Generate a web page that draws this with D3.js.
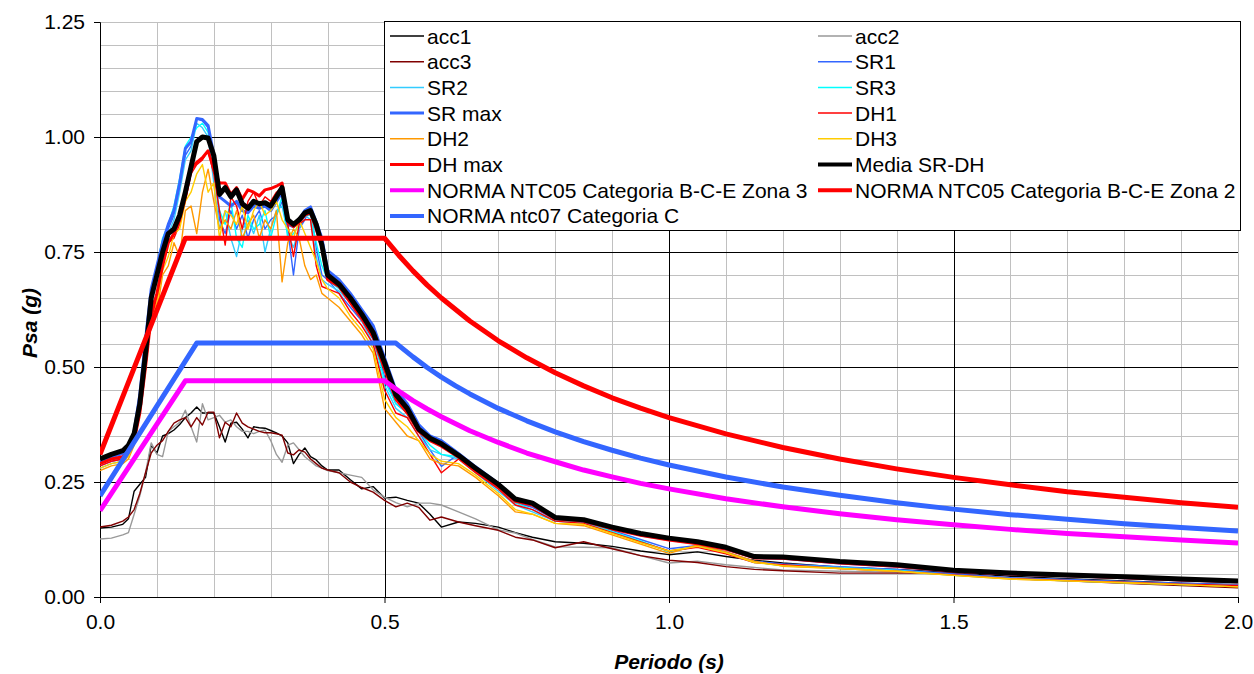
<!DOCTYPE html>
<html>
<head>
<meta charset="utf-8">
<script src="https://cdn.jsdelivr.net/npm/d3@7"></script>
<style>
body { margin: 0; background: #fff; }
text { font-family: Arial, "Liberation Sans", sans-serif; fill: #000; }
</style>
</head>
<body>
<script>
// periods (s) shared by the record spectra
var periods = [0,0.02,0.04,0.05,0.06,0.07,0.08,0.09,0.10,0.11,
	0.12,0.13,0.14,0.15,0.16,0.17,0.18,0.19,0.20,0.21,
	0.22,0.23,0.24,0.25,0.26,0.27,0.28,0.29,0.30,0.31,
	0.32,0.33,0.34,0.35,0.36,0.37,0.38,0.39,0.40,0.42,
	0.44,0.46,0.48,0.50,0.52,0.54,0.56,0.58,0.60,0.63,
	0.66,0.70,0.73,0.76,0.80,0.85,0.90,0.95,1.00,1.05,
	1.10,1.15,1.20,1.30,1.40,1.50,1.60,1.70,1.80,1.90,
	2.00];

var acc1 = [0.150,0.152,0.158,0.170,0.230,0.245,0.260,0.330,0.313,0.350,
	0.355,0.363,0.375,0.390,0.400,0.413,0.400,0.400,0.400,0.370,
	0.337,0.378,0.380,0.365,0.346,0.370,0.368,0.367,0.362,0.357,
	0.350,0.335,0.290,0.310,0.324,0.305,0.298,0.285,0.276,0.276,
	0.255,0.235,0.240,0.215,0.217,0.210,0.204,0.180,0.152,0.163,
	0.160,0.152,0.140,0.130,0.120,0.117,0.110,0.100,0.092,0.098,
	0.088,0.080,0.074,0.065,0.060,0.053,0.045,0.040,0.035,0.030,
	0.027];
var acc2 = [0.126,0.128,0.135,0.140,0.180,0.220,0.270,0.335,0.310,0.305,
	0.360,0.370,0.380,0.406,0.370,0.337,0.420,0.385,0.390,0.395,
	0.380,0.385,0.370,0.360,0.360,0.355,0.360,0.363,0.340,0.310,
	0.293,0.330,0.335,0.320,0.305,0.295,0.285,0.280,0.275,0.270,
	0.265,0.260,0.233,0.217,0.205,0.196,0.204,0.204,0.200,0.185,
	0.170,0.146,0.139,0.125,0.109,0.108,0.107,0.090,0.074,0.078,
	0.070,0.064,0.059,0.056,0.054,0.050,0.042,0.037,0.033,0.028,
	0.025];
var acc3 = [0.152,0.156,0.165,0.174,0.190,0.225,0.270,0.313,0.330,0.340,
	0.360,0.378,0.385,0.390,0.370,0.390,0.374,0.402,0.402,0.346,
	0.380,0.370,0.400,0.378,0.370,0.365,0.360,0.357,0.357,0.355,
	0.352,0.313,0.309,0.320,0.315,0.300,0.290,0.280,0.276,0.270,
	0.250,0.238,0.228,0.210,0.196,0.204,0.195,0.167,0.174,0.163,
	0.155,0.145,0.130,0.124,0.107,0.120,0.105,0.090,0.080,0.075,
	0.066,0.060,0.057,0.052,0.052,0.052,0.040,0.035,0.030,0.025,
	0.020];
var sr1 = [0.285,0.295,0.300,0.315,0.350,0.430,0.550,0.660,0.710,0.760,
	0.800,0.830,0.890,0.960,0.980,1.040,1.035,1.020,0.950,0.820,
	0.790,0.840,0.800,0.830,0.780,0.820,0.840,0.800,0.820,0.830,
	0.860,0.800,0.700,0.800,0.820,0.845,0.760,0.700,0.690,0.660,
	0.630,0.600,0.560,0.480,0.420,0.400,0.360,0.320,0.284,0.310,
	0.280,0.240,0.205,0.195,0.168,0.162,0.145,0.125,0.105,0.112,
	0.098,0.078,0.072,0.066,0.060,0.050,0.042,0.038,0.034,0.030,
	0.027];
var sr2 = [0.280,0.290,0.295,0.310,0.345,0.420,0.540,0.650,0.700,0.760,
	0.790,0.820,0.880,0.950,0.970,1.030,1.020,1.000,0.900,0.800,
	0.840,0.780,0.740,0.800,0.820,0.790,0.830,0.750,0.800,0.840,
	0.850,0.790,0.760,0.800,0.830,0.820,0.740,0.690,0.680,0.665,
	0.640,0.600,0.550,0.460,0.410,0.390,0.350,0.320,0.310,0.300,
	0.270,0.230,0.200,0.185,0.165,0.160,0.140,0.120,0.100,0.110,
	0.095,0.075,0.070,0.064,0.058,0.048,0.040,0.036,0.032,0.028,
	0.025];
var sr3 = [0.290,0.300,0.305,0.320,0.350,0.430,0.550,0.660,0.720,0.780,
	0.810,0.850,0.910,0.980,1.000,1.020,1.030,1.010,0.930,0.840,
	0.810,0.860,0.780,0.760,0.830,0.800,0.810,0.840,0.780,0.830,
	0.870,0.780,0.790,0.810,0.830,0.830,0.770,0.720,0.690,0.670,
	0.645,0.610,0.570,0.470,0.420,0.400,0.360,0.330,0.310,0.305,
	0.275,0.235,0.205,0.190,0.165,0.165,0.142,0.122,0.098,0.110,
	0.096,0.076,0.068,0.063,0.057,0.047,0.040,0.035,0.031,0.027,
	0.024];
var srMax = [0.295,0.305,0.312,0.325,0.360,0.440,0.560,0.670,0.720,0.770,
	0.810,0.840,0.900,0.975,0.990,1.040,1.038,1.025,0.960,0.870,
	0.860,0.850,0.860,0.840,0.835,0.850,0.845,0.850,0.840,0.860,
	0.880,0.810,0.805,0.820,0.840,0.848,0.815,0.780,0.710,0.690,
	0.660,0.625,0.590,0.520,0.450,0.420,0.375,0.350,0.340,0.312,
	0.283,0.247,0.212,0.203,0.172,0.167,0.150,0.135,0.125,0.117,
	0.105,0.086,0.084,0.074,0.067,0.056,0.050,0.046,0.042,0.037,
	0.033];
var dh1 = [0.285,0.295,0.300,0.310,0.340,0.410,0.520,0.630,0.660,0.720,
	0.770,0.780,0.810,0.860,0.920,0.940,0.950,0.970,0.920,0.840,
	0.765,0.870,0.850,0.800,0.860,0.880,0.850,0.870,0.860,0.880,
	0.890,0.810,0.740,0.810,0.820,0.820,0.720,0.675,0.670,0.660,
	0.620,0.590,0.550,0.450,0.400,0.390,0.350,0.310,0.270,0.300,
	0.270,0.235,0.200,0.190,0.165,0.160,0.140,0.120,0.100,0.108,
	0.094,0.075,0.070,0.062,0.056,0.048,0.040,0.036,0.032,0.028,
	0.025];
var dh2 = [0.275,0.285,0.290,0.300,0.330,0.400,0.500,0.600,0.620,0.700,
	0.720,0.770,0.740,0.840,0.850,0.790,0.880,0.930,0.860,0.800,
	0.820,0.800,0.840,0.780,0.810,0.830,0.780,0.820,0.800,0.840,
	0.685,0.770,0.800,0.780,0.720,0.690,0.700,0.660,0.650,0.630,
	0.600,0.570,0.530,0.410,0.380,0.350,0.340,0.300,0.290,0.285,
	0.260,0.220,0.185,0.180,0.160,0.155,0.135,0.115,0.095,0.113,
	0.098,0.078,0.067,0.062,0.056,0.047,0.039,0.035,0.031,0.027,
	0.022];
var dh3 = [0.280,0.290,0.295,0.305,0.335,0.410,0.510,0.610,0.640,0.710,
	0.740,0.790,0.800,0.860,0.880,0.920,0.940,0.880,0.900,0.780,
	0.840,0.830,0.810,0.850,0.800,0.840,0.860,0.830,0.840,0.860,
	0.820,0.800,0.780,0.820,0.790,0.760,0.730,0.690,0.670,0.650,
	0.610,0.580,0.540,0.430,0.390,0.370,0.340,0.310,0.295,0.290,
	0.265,0.225,0.190,0.180,0.160,0.158,0.138,0.118,0.100,0.110,
	0.096,0.075,0.068,0.062,0.056,0.047,0.039,0.035,0.031,0.027,
	0.022];
var dhMax = [0.290,0.300,0.305,0.315,0.340,0.400,0.500,0.610,0.660,0.720,
	0.770,0.790,0.820,0.870,0.930,0.945,0.955,0.970,0.930,0.900,
	0.900,0.875,0.890,0.865,0.885,0.880,0.872,0.885,0.888,0.893,
	0.900,0.815,0.805,0.815,0.830,0.835,0.800,0.760,0.690,0.675,
	0.640,0.605,0.565,0.495,0.430,0.400,0.360,0.340,0.328,0.304,
	0.275,0.240,0.208,0.200,0.170,0.165,0.148,0.134,0.124,0.116,
	0.104,0.085,0.084,0.074,0.067,0.056,0.050,0.046,0.042,0.037,
	0.033];
var media = [0.300,0.310,0.318,0.330,0.355,0.420,0.530,0.650,0.700,0.750,
	0.790,0.800,0.830,0.880,0.935,0.990,1.000,0.998,0.960,0.875,
	0.890,0.870,0.885,0.855,0.845,0.860,0.855,0.857,0.850,0.870,
	0.890,0.820,0.810,0.820,0.835,0.840,0.810,0.765,0.700,0.680,
	0.650,0.615,0.575,0.510,0.440,0.410,0.365,0.345,0.333,0.308,
	0.280,0.245,0.213,0.204,0.173,0.168,0.152,0.138,0.128,0.120,
	0.108,0.088,0.087,0.077,0.070,0.058,0.052,0.048,0.044,0.039,
	0.035];

// design spectra (norma)
var codeT05 = [0,0.15,0.50,0.525,0.55,0.575,0.60,0.65,0.70,0.75,0.80,0.85,0.90,0.95,1.00,
	1.10,1.20,1.30,1.40,1.50,1.60,1.70,1.80,1.90,2.00];
var zona3 = [0.1875,0.470,0.470,0.4476,0.427,0.4087,0.392,0.3615,0.336,0.313,0.294,0.276,0.261,0.247,0.235,
	0.2136,0.196,0.181,0.168,0.157,0.147,0.138,0.131,0.124,0.1175];
var zona2 = [0.310,0.780,0.780,0.743,0.709,0.678,0.650,0.600,0.557,0.520,0.4875,0.459,0.433,0.4105,0.390,
	0.3545,0.325,0.300,0.2786,0.260,0.244,0.229,0.217,0.205,0.195];
var codeT07 = [0,0.17,0.52,0.55,0.575,0.60,0.625,0.65,0.70,0.75,0.80,0.85,0.90,0.95,1.00,
	1.10,1.20,1.30,1.40,1.50,1.60,1.70,1.80,1.90,2.00];
var ntc07C = [0.220,0.552,0.552,0.522,0.499,0.478,0.459,0.4415,0.410,0.383,0.359,0.338,0.319,0.302,0.287,
	0.261,0.239,0.221,0.205,0.191,0.179,0.169,0.159,0.151,0.1435];

// axis ticks
var yTicks = [0, 0.25, 0.5, 0.75, 1.0, 1.25];
var xTicks = [0, 0.5, 1.0, 1.5, 2.0];

var width = 1254,
	height = 674,
	plotLeft = 100,
	plotRight = 1238,
	plotTop = 22,
	plotBottom = 597,
	fontSize = '21px';

var series = [
	{name: 'acc1', t: periods, v: acc1, color: '#000000', w: 1.4},
	{name: 'acc2', t: periods, v: acc2, color: '#999999', w: 1.4},
	{name: 'acc3', t: periods, v: acc3, color: '#800000', w: 1.4},
	{name: 'SR1', t: periods, v: sr1, color: '#3366FF', w: 1.4},
	{name: 'SR2', t: periods, v: sr2, color: '#33CCFF', w: 1.4},
	{name: 'SR3', t: periods, v: sr3, color: '#00FFFF', w: 1.4},
	{name: 'SR max', t: periods, v: srMax, color: '#3366FF', w: 3},
	{name: 'DH1', t: periods, v: dh1, color: '#FF0000', w: 1.4},
	{name: 'DH2', t: periods, v: dh2, color: '#FF9900', w: 1.4},
	{name: 'DH3', t: periods, v: dh3, color: '#FFCC00', w: 1.4},
	{name: 'DH max', t: periods, v: dhMax, color: '#FF0000', w: 3},
	{name: 'Media SR-DH', t: periods, v: media, color: '#000000', w: 5},
	{name: 'NORMA NTC05 Categoria B-C-E Zona 3', t: codeT05, v: zona3, color: '#FF00FF', w: 5},
	{name: 'NORMA NTC05 Categoria B-C-E Zona 2', t: codeT05, v: zona2, color: '#FF0000', w: 5},
	{name: 'NORMA ntc07 Categoria C', t: codeT07, v: ntc07C, color: '#3366FF', w: 5}
];

var x = d3.scaleLinear().domain([0, 2]).range([plotLeft, plotRight]);
var y = d3.scaleLinear().domain([0, 1.25]).range([plotBottom, plotTop]);

// keeps 1px lines sharp
function px(v) { return Math.round(v) + 0.5; }

var svg = d3.select('body').append('svg')
	.attr('width', width)
	.attr('height', height);

svg.append('defs').append('clipPath').attr('id', 'plot')
	.append('rect')
		.attr('x', plotLeft).attr('y', plotTop)
		.attr('width', plotRight - plotLeft).attr('height', plotBottom - plotTop);

// minor grid, every 0.1 s and every 0.05 g
svg.append('g').selectAll('line')
	.data(x.ticks(20))
	.enter().append('line')
		.attr('x1', function(d){ return px(x(d)); })
		.attr('x2', function(d){ return px(x(d)); })
		.attr('y1', plotTop).attr('y2', plotBottom)
		.style('stroke', '#c0c0c0');
svg.append('g').selectAll('line')
	.data(y.ticks(25))
	.enter().append('line')
		.attr('y1', function(d){ return px(y(d)); })
		.attr('y2', function(d){ return px(y(d)); })
		.attr('x1', plotLeft).attr('x2', plotRight)
		.style('stroke', '#c0c0c0');

// major grid
svg.append('g').selectAll('line')
	.data(xTicks.slice(1, -1))
	.enter().append('line')
		.attr('x1', function(d){ return px(x(d)); })
		.attr('x2', function(d){ return px(x(d)); })
		.attr('y1', plotTop).attr('y2', plotBottom)
		.style('stroke', '#000');
svg.append('g').selectAll('line')
	.data(yTicks.slice(1, -1))
	.enter().append('line')
		.attr('y1', function(d){ return px(y(d)); })
		.attr('y2', function(d){ return px(y(d)); })
		.attr('x1', plotLeft).attr('x2', plotRight)
		.style('stroke', '#000');

// axes
var yAxis = d3.axisLeft(y).tickValues(yTicks).tickFormat(d3.format('.2f')).tickSize(6).tickPadding(9);
var xAxis = d3.axisBottom(x).tickValues(xTicks).tickFormat(d3.format('.1f')).tickSize(6).tickPadding(11);

function styleAxis(g) {
	g.selectAll('text').style('font-size', fontSize).style('font-family', 'Arial, "Liberation Sans", sans-serif');
	g.selectAll('line, path').style('stroke', '#000');
}

svg.append('g')
	.attr('transform', 'translate(' + (px(plotLeft) - 0.5) + ',0)')
	.call(yAxis)
	.call(styleAxis);
svg.append('g')
	.attr('transform', 'translate(0,' + (px(plotBottom) - 0.5) + ')')
	.call(xAxis)
	.call(styleAxis);

// spectra
var line = d3.line()
	.x(function(d){ return x(d[0]); })
	.y(function(d){ return y(d[1]); });

svg.append('g').attr('clip-path', 'url(#plot)')
	.selectAll('path')
		.data(series)
		.enter().append('path')
			.attr('d', function(s){
				return line(s.t.map(function(t, i){ return [t, s.v[i]]; }));
			})
			.style('fill', 'none')
			.style('stroke', function(s){ return s.color; })
			.style('stroke-width', function(s){ return s.w; })
			.style('stroke-linejoin', 'round');

// axis titles
svg.append('text')
	.attr('transform', 'translate(37,323) rotate(-90)')
	.attr('text-anchor', 'middle')
	.style('font-size', fontSize)
	.style('font-weight', 'bold')
	.style('font-style', 'italic')
	.text('Psa (g)');
svg.append('text')
	.attr('x', 669).attr('y', 669)
	.attr('text-anchor', 'middle')
	.style('font-size', fontSize)
	.style('font-weight', 'bold')
	.style('font-style', 'italic')
	.text('Periodo (s)');

// legend, two columns
var legend = svg.append('g');
legend.append('rect')
	.attr('x', 384.5).attr('y', 21.5)
	.attr('width', 856).attr('height', 209)
	.style('fill', '#fff')
	.style('stroke', '#000');

var item = legend.selectAll('g.item')
	.data(series)
	.enter().append('g')
		.attr('transform', function(d, i){
			var col = i % 2, row = Math.floor(i / 2);
			return 'translate(' + (col ? 818 : 390) + ',' + (36 + row * 25.7) + ')';
		});
item.append('line')
	.attr('x1', 0).attr('x2', 34)
	.style('stroke', function(s){ return s.color; })
	.style('stroke-width', function(s){ return Math.max(Math.min(s.w, 4), 1.5); });
item.append('text')
	.attr('x', 37).attr('y', 7.5)
	.style('font-size', fontSize)
	.text(function(s){ return s.name; });
</script>
</body>
</html>
